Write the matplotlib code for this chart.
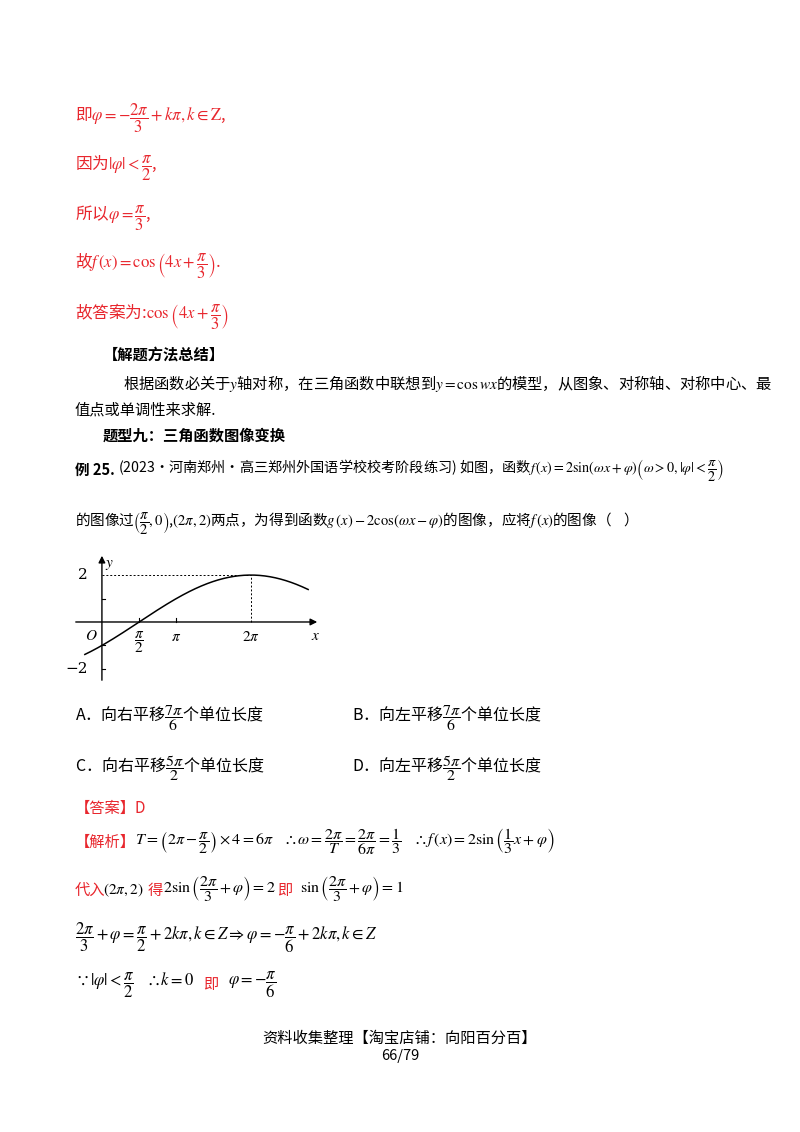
import numpy as np
import matplotlib
matplotlib.use("Agg")
import matplotlib.pyplot as plt

plt.rcParams['font.family'] = ['Noto Sans CJK SC', 'DejaVu Sans']
plt.rcParams['mathtext.fontset'] = 'stix'

# function y = A sin(omega x + phi)
amp = 2
omega = [1 / 3]
phi = [-np.pi / 6]
x_range = [-0.72, 8.7]
xtick_pos = [np.pi / 2, np.pi, 2 * np.pi]
xtick_labels = [r'$\dfrac{\pi}{2}$', r'$\pi$', r'$2\pi$']
ytick_pos = [2, -2]
ytick_labels = ['2', '−2']

RED = '#e8262d'
W, H = 800, 1132
fig = plt.figure(figsize=(8, 11.32), dpi=100)

def t(x, y, s, c='black', size=11, **kw):
    fig.text(x / W, 1 - y / H, s, color=c, fontsize=size, va='center', **kw)

# red solution lines at top
t(75, 118, r'即$\varphi=-\dfrac{2\pi}{3}+k\pi,k\in\mathrm{Z}$,', RED, size=12)
t(75, 168, r'因为$|\varphi|<\dfrac{\pi}{2}$,', RED, size=12)
t(75, 218, r'所以$\varphi=\dfrac{\pi}{3}$,', RED, size=12)
t(75, 266, r'故$f\,(x)=\cos\left(4x+\dfrac{\pi}{3}\right)$.', RED, size=12)
t(75, 317, r'故答案为:$\cos\left(4x+\dfrac{\pi}{3}\right)$', RED, size=12)

t(103, 355, '【解题方法总结】', weight='bold', size=11)
t(123, 383, r'根据函数必关于$y$轴对称，在三角函数中联想到$y=\cos wx$的模型，从图象、对称轴、对称中心、最', size=11)
t(75, 410, '值点或单调性来求解.', size=11)
t(103, 436, '题型九：三角函数图像变换', weight='bold', size=11)

t(75, 470, '例 25.', weight='bold', size=10.5)
t(118, 470, r'(2023·河南郑州·高三郑州外国语学校校考阶段练习) 如图，函数$f\,(x)=2\sin(\omega x+\varphi)\left(\omega>0,|\varphi|<\dfrac{\pi}{2}\right)$', size=10.2)
t(75, 524, r'的图像过$\left(\dfrac{\pi}{2},0\right)$,$(2\pi,2)$两点，为得到函数$g\,(x)-2\cos(\omega x-\varphi)$的图像，应将$f\,(x)$的图像（    ）', size=10.5)

t(75, 718, r'A．向右平移$\dfrac{7\pi}{6}$个单位长度', size=11.5)
t(352, 718, r'B．向左平移$\dfrac{7\pi}{6}$个单位长度', size=11.5)
t(75, 768, r'C．向右平移$\dfrac{5\pi}{2}$个单位长度', size=11.5)
t(352, 768, r'D．向左平移$\dfrac{5\pi}{2}$个单位长度', size=11.5)

t(75, 808, '【答案】D', RED)
t(75, 842, r'【解析】', RED)
t(135, 842, r'$T=\left(2\pi-\dfrac{\pi}{2}\right)\times4=6\pi\quad\therefore\omega=\dfrac{2\pi}{T}=\dfrac{2\pi}{6\pi}=\dfrac{1}{3}\quad\therefore f\,(x)=2\sin\left(\dfrac{1}{3}x+\varphi\right)$', size=11.5)
t(75, 890, r'代入', RED)
t(103, 890, r'$(2\pi,2)$')
t(148, 890, r'得', RED)
t(163, 890, r'$2\sin\left(\dfrac{2\pi}{3}+\varphi\right)=2$', size=11.5)
t(277, 890, r'即', RED)
t(300, 890, r'$\sin\left(\dfrac{2\pi}{3}+\varphi\right)=1$', size=11.5)
t(75, 938, r'$\dfrac{2\pi}{3}+\varphi=\dfrac{\pi}{2}+2k\pi,k\in Z\Rightarrow\varphi=-\dfrac{\pi}{6}+2k\pi,k\in Z$', size=12)
t(75, 985, r'$\because|\varphi|<\dfrac{\pi}{2}\quad\therefore k=0$', size=12)
t(203, 985, '即', RED)
t(228, 985, r'$\varphi=-\dfrac{\pi}{6}$', size=12)

t(400, 1038, '资料收集整理【淘宝店铺：向阳百分百】', ha='center', size=11)
t(400, 1056, '66/79', ha='center', size=10.5)

# graph
x0, x1 = -1.22, 9.2
y0, y1 = -2.6, 2.94
ax = fig.add_axes([73 / W, 1 - 683 / H, 247 / W, 130 / H])
ax.set_xlim(x0, x1)
ax.set_ylim(y0, y1)
ax.axis('off')
xs = np.linspace(x_range[0], x_range[1], 300)
ax.plot(xs, amp * np.sin(omega[0] * xs + phi[0]), color='black', lw=1.1)
ax.annotate('', xy=(x1, 0), xytext=(x0, 0), arrowprops=dict(arrowstyle='-|>', color='black', lw=1))
ax.annotate('', xy=(0, y1), xytext=(0, y0), arrowprops=dict(arrowstyle='-|>', color='black', lw=1))
ax.plot([0, 2 * np.pi], [2, 2], ls=(0, (2, 2)), color='black', lw=0.7)
ax.plot([2 * np.pi, 2 * np.pi], [0, 2], ls=(0, (2, 2)), color='black', lw=0.7)
for xp in xtick_pos[:2]:
    ax.plot([xp, xp], [0, 0.15], color='black', lw=0.8)
for yp in [1, -1, -2]:
    ax.plot([0, 0.15], [yp, yp], color='black', lw=0.8)
for xp, lab in zip(xtick_pos, xtick_labels):
    ax.text(xp, -0.25 if lab != xtick_labels[0] else -0.3, lab, ha='center', va='top', fontsize=11)
for yp, lab in zip(ytick_pos, ytick_labels):
    ax.text(-0.6, yp, lab, ha='right', va='center', fontsize=11, family='DejaVu Serif')
ax.text(-0.2, -0.2, r'$O$', ha='right', va='top', fontsize=11)
ax.text(x1 - 0.2, -0.2, r'$x$', ha='center', va='top', fontsize=11)
ax.text(0.3, y1 - 0.1, r'$y$', ha='center', va='top', fontsize=11)

fig.savefig('out.png', dpi=100)
